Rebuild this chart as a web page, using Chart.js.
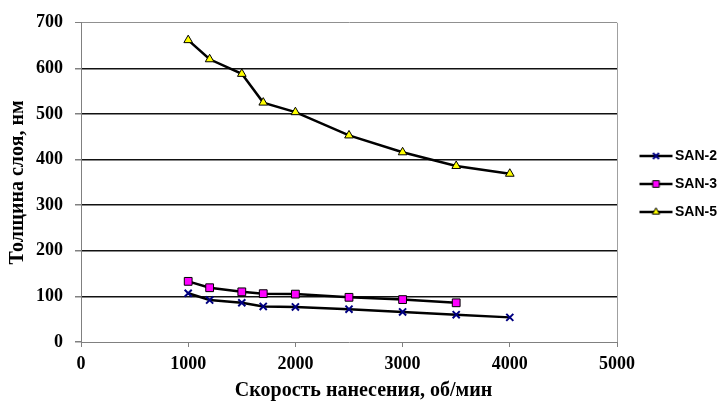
<!DOCTYPE html>
<html>
<head>
<meta charset="utf-8">
<script src="https://cdn.jsdelivr.net/npm/chart.js@4/dist/chart.umd.min.js"></script>
<style>
  html, body { margin: 0; padding: 0; background: #fff; }
  #wrap { width: 727px; height: 404px; }
</style>
</head>
<body>
<div id="wrap"><canvas id="chart" width="727" height="404"></canvas></div>
<script>
// speed of coating, rpm
const speeds = [1000, 1200, 1500, 1700, 2000, 2500, 3000, 3500, 4000];
// layer thickness, nm
const san2 = [107, 92, 86, 78, 77, 72, 66, 60, 54];
const san3 = [133, 119, 110, 106, 105, 98, 93, 86];
const san5 = [662, 620, 588, 525, 504, 453, 416, 386, 369];
const seriesNames = ['SAN-2', 'SAN-3', 'SAN-5'];
const yTicks = [0, 100, 200, 300, 400, 500, 600, 700];
const xTicks = [0, 1000, 2000, 3000, 4000, 5000];

function toPoints(vals) {
    return vals.map((v, i) => ({ x: speeds[i], y: v }));
}

const serif = 'Liberation Serif, Times New Roman, serif';

const styles = [
    { pointStyle: 'crossRot', pointRadius: 5, pointBorderColor: '#000080', pointBackgroundColor: '#000080', pointBorderWidth: 2 },
    { pointStyle: 'rect', pointRadius: 5.5, pointBorderColor: '#000', pointBackgroundColor: '#ff00ff', pointBorderWidth: 1 },
    { pointStyle: 'triangle', pointRadius: 5, pointBorderColor: '#000', pointBackgroundColor: '#ffff00', pointBorderWidth: 1 }
];

// small line+marker swatch for the legend
function swatch(st) {
    const c = document.createElement('canvas');
    c.width = 60; c.height = 14;
    const g = c.getContext('2d');
    g.strokeStyle = '#000';
    g.lineWidth = 2.5;
    g.beginPath(); g.moveTo(20, 7); g.lineTo(53, 7); g.stroke();
    g.fillStyle = st.pointBackgroundColor;
    g.strokeStyle = st.pointBorderColor;
    g.lineWidth = st.pointBorderWidth;
    Chart.helpers.drawPoint(g, {
        pointStyle: st.pointStyle, radius: st.pointRadius * 0.85, rotation: 0, borderWidth: st.pointBorderWidth
    }, 36.5, 7);
    return c;
}

const datasets = [san2, san3, san5].map((vals, i) => Object.assign({
    label: seriesNames[i],
    data: toPoints(vals),
    borderColor: '#000',
    borderWidth: 2.5,
    tension: 0,
    fill: false
}, styles[i]));

new Chart(document.getElementById('chart'), {
    type: 'line',
    data: { datasets: datasets },
    options: {
        responsive: false,
        animation: false,
        layout: { padding: { top: 20, left: 0, right: 0, bottom: 0 } },
        plugins: {
            tooltip: { enabled: false },
            // x axis caption: centred on the whole picture, like the original
            title: {
                display: true,
                position: 'bottom',
                text: 'Скорость нанесения, об/мин',
                color: '#000',
                padding: { top: 0, bottom: 1 },
                font: { family: serif, weight: 'bold', size: 20 }
            },
            legend: {
                position: 'right',
                align: 'start',
                maxWidth: 110,
                // empty title only pushes the items down to the middle of the plot
                title: { display: true, text: ' ', font: { size: 10 }, padding: { top: 103, bottom: 0 } },
                labels: {
                    usePointStyle: true,
                    pointStyleWidth: 37,
                    padding: 14,
                    color: '#000',
                    font: { family: 'Liberation Sans, Arial, sans-serif', weight: 'bold', size: 14 },
                    generateLabels: function(chart) {
                        return chart.data.datasets.map((ds, i) => ({
                            text: ds.label,
                            pointStyle: swatch(styles[i]),
                            fillStyle: 'transparent',
                            strokeStyle: 'transparent',
                            lineWidth: 0,
                            fontColor: '#000',
                            hidden: false,
                            datasetIndex: i
                        }));
                    }
                }
            }
        },
        scales: {
            x: {
                type: 'linear',
                min: 0,
                max: 5000,
                afterBuildTicks: s => { s.ticks = xTicks.map(v => ({ value: v })); },
                afterFit: s => { s.height = 37; },
                border: { color: '#808080', width: 1 },
                grid: {
                    color: c => (c.tick && c.tick.value === 5000) ? '#a0a0a0' : 'transparent',
                    tickColor: '#808080',
                    tickLength: 5
                },
                ticks: {
                    color: '#000',
                    padding: 7,
                    maxRotation: 0,
                    callback: v => String(v),
                    font: { family: serif, weight: 'bold', size: 18 }
                }
            },
            y: {
                min: 0,
                max: 700,
                afterBuildTicks: s => { s.ticks = yTicks.map(v => ({ value: v })); },
                afterFit: s => { s.width = 81; },
                border: { color: '#808080', width: 1 },
                grid: {
                    color: c => {
                        if (!c.tick || c.tick.value === 0) return 'transparent';
                        return c.tick.value === 700 ? '#909090' : '#111';
                    },
                    lineWidth: c => (c.tick && c.tick.value === 700) ? 1 : 1.5,
                    tickColor: '#808080',
                    tickLength: 6
                },
                ticks: {
                    color: '#000',
                    padding: 12,
                    font: { family: serif, weight: 'bold', size: 18 }
                },
                title: {
                    display: true,
                    text: 'Толщина слоя, нм',
                    color: '#000',
                    padding: { top: 6, bottom: 0 },
                    font: { family: serif, weight: 'bold', size: 20 }
                }
            }
        }
    }
});
</script>
</body>
</html>
